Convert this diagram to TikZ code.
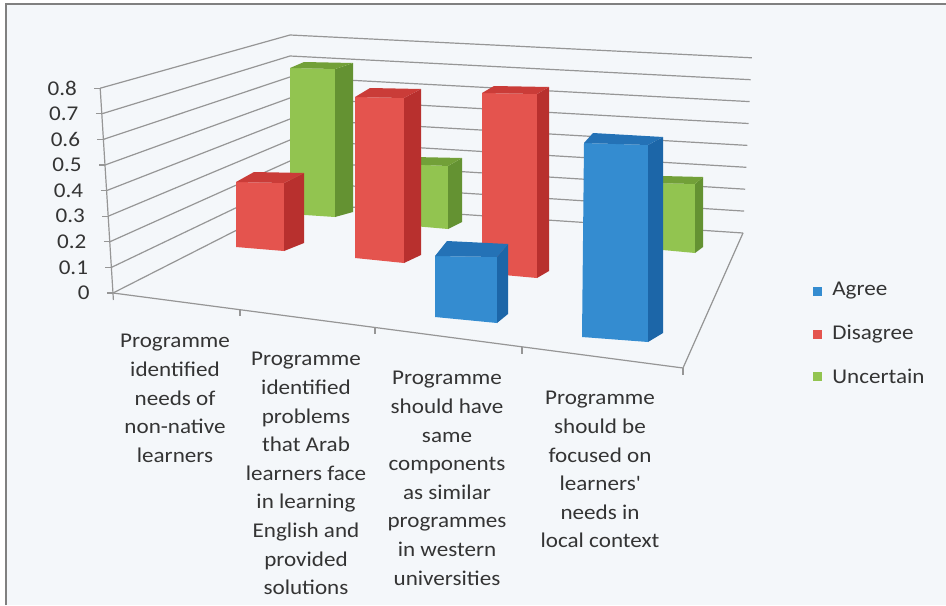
\documentclass[tikz,border=0pt]{standalone}
\usepackage{fontspec}
\setmainfont{Carlito}[FakeStretch=1.1]
\definecolor{agreefront}{RGB}{52,140,208}
\definecolor{agreeside}{RGB}{28,102,168}
\definecolor{agreetop}{RGB}{36,114,182}
\definecolor{disfront}{RGB}{228,84,78}
\definecolor{disside}{RGB}{184,48,46}
\definecolor{distop}{RGB}{202,60,56}
\definecolor{uncfront}{RGB}{146,196,80}
\definecolor{uncside}{RGB}{100,146,50}
\definecolor{unctop}{RGB}{114,160,56}
\definecolor{chartback}{RGB}{244,247,250}
\definecolor{chartgrid}{RGB}{150,150,150}
\definecolor{charttext}{RGB}{52,52,52}
\usetikzlibrary{positioning}

\begin{document}
\begin{tikzpicture}[x=0.5pt,y=-0.5pt]

	 \tikzstyle{grid}=[draw,line width=0.6pt,chartgrid]
	 \tikzstyle{frame}=[draw,line width=1pt,black!50]
	 \tikzstyle{label}=[font=\fontsize{10.5}{14.3}\selectfont,text=charttext,inner sep=0pt]
	 \tikzstyle{axislabel}=[label,anchor=east]
	 \tikzstyle{catlabel}=[label,anchor=north,align=center]
	 \tikzstyle{legendbox}=[minimum size=4.5pt,inner sep=0pt]
	 \useasboundingbox (0,0) rectangle (946,605);
	 \fill[white] (0,0) rectangle (946,605);
	 \fill[chartback] (6,4) rectangle (946,605);
	 \draw[frame] (6,605) -- (6,4) -- (946,4);

	 % walls and floor
	 \draw[grid] (113,293) -- (290,203) -- (743,233);
	 \draw[grid] (111.4,267.4) -- (290,182) -- (744.1,211.1);
	 \draw[grid] (109.8,241.8) -- (290,161) -- (745.2,189.2);
	 \draw[grid] (108.2,216.2) -- (290,140) -- (746.3,167.3);
	 \draw[grid] (106.6,190.6) -- (290,119) -- (747.4,145.4);
	 \draw[grid] (105,165) -- (290,98) -- (748.5,123.5);
	 \draw[grid] (103.4,139.4) -- (290,77) -- (749.6,101.6);
	 \draw[grid] (101.8,113.8) -- (290,56) -- (750.7,79.7);
	 \draw[grid] (100.2,88.2) -- (290,35) -- (751.8,57.8);
	 \draw[grid] (100.2,88.2) -- (113.4,300);
	 \draw[grid] (113,293) -- (683,368) -- (743,233);
	 \draw[grid] (240,310) -- (240,316);
	 \draw[grid] (375,328) -- (375,334);
	 \draw[grid] (522,347) -- (522,354);
	 \draw[grid] (683,368) -- (683,375);
	 \draw[grid] (107,293) -- (113,293);
	 \draw[grid] (105.4,267.4) -- (111.4,267.4);
	 \draw[grid] (103.8,241.8) -- (109.8,241.8);
	 \draw[grid] (102.2,216.2) -- (108.2,216.2);
	 \draw[grid] (100.6,190.6) -- (106.6,190.6);
	 \draw[grid] (99,165) -- (105,165);
	 \draw[grid] (97.4,139.4) -- (103.4,139.4);
	 \draw[grid] (95.8,113.8) -- (101.8,113.8);
	 \draw[grid] (94.2,88.2) -- (100.2,88.2);

	 \node[axislabel] (y0) at (90,293) {0};
	 \node[axislabel] (y1) at (88.4,267.4) {0.1};
	 \node[axislabel] (y2) at (86.8,241.8) {0.2};
	 \node[axislabel] (y3) at (85.2,216.2) {0.3};
	 \node[axislabel] (y4) at (83.6,190.6) {0.4};
	 \node[axislabel] (y5) at (82,165) {0.5};
	 \node[axislabel] (y6) at (80.4,139.4) {0.6};
	 \node[axislabel] (y7) at (78.8,113.8) {0.7};
	 \node[axislabel] (y8) at (77.2,88.2) {0.8};

	 % Uncertain
	 \fill[uncfront] (290,68) -- (335,69) -- (335,217) -- (290,214) -- cycle;
	 \fill[uncside] (335,69) -- (353,63) -- (353,212) -- (335,217) -- cycle;
	 \fill[unctop] (290,68) -- (335,69) -- (353,63) -- (304,62) -- cycle;
	 \fill[uncfront] (402,164) -- (448,166) -- (448,229) -- (402,225) -- cycle;
	 \fill[uncside] (448,166) -- (462,158) -- (462,222) -- (448,229) -- cycle;
	 \fill[unctop] (402,164) -- (448,166) -- (462,158) -- (414,157) -- cycle;
	 \fill[uncfront] (652,183) -- (695,184) -- (695,253) -- (652,249) -- cycle;
	 \fill[uncside] (695,184) -- (703,177) -- (703,247) -- (695,253) -- cycle;
	 \fill[unctop] (652,183) -- (695,184) -- (703,177) -- (662,176) -- cycle;

	 % Disagree
	 \fill[disfront] (236,182) -- (284,183) -- (284,251) -- (236,247) -- cycle;
	 \fill[disside] (284,183) -- (304,173) -- (304,243) -- (284,251) -- cycle;
	 \fill[distop] (236,182) -- (284,183) -- (304,173) -- (254,172) -- cycle;
	 \fill[disfront] (355,97) -- (404,98) -- (404,263) -- (355,258) -- cycle;
	 \fill[disside] (404,98) -- (421,89) -- (421,255) -- (404,263) -- cycle;
	 \fill[distop] (355,97) -- (404,98) -- (421,89) -- (370,88) -- cycle;
	 \fill[disfront] (482,93) -- (537,94) -- (537,278) -- (482,273) -- cycle;
	 \fill[disside] (537,94) -- (549,87) -- (549,271) -- (537,278) -- cycle;
	 \fill[distop] (482,93) -- (537,94) -- (549,87) -- (494,86) -- cycle;

	 % Agree
	 \fill[agreefront] (435,256) -- (497,257) -- (497,323) -- (435,317) -- cycle;
	 \fill[agreeside] (497,257) -- (508,244) -- (508,314) -- (497,323) -- cycle;
	 \fill[agreetop] (435,256) -- (497,257) -- (508,244) -- (447,241) -- cycle;
	 \fill[agreefront] (584,143) -- (648,145) -- (648,342) -- (582,337) -- cycle;
	 \fill[agreeside] (648,145) -- (663,137) -- (663,333) -- (648,342) -- cycle;
	 \fill[agreetop] (584,143) -- (648,145) -- (663,137) -- (593,133) -- cycle;

	 \node[catlabel] (c1) at (175,334) {Programme\\identified\\needs of\\non-native\\learners};
	 \node[catlabel] (c2) at (306,352) {Programme\\identified\\problems\\that Arab\\learners face\\in learning\\English and\\provided\\solutions};
	 \node[catlabel] (c3) at (447,371) {Programme\\should have\\same\\components\\as similar\\programmes\\in western\\universities};
	 \node[catlabel] (c4) at (600,391) {Programme\\should be\\focused on\\learners\textquotesingle\\needs in\\local context};

	 \node[legendbox,fill=agreefront] (agree) at (817,291) {};
	 \node[legendbox,fill=disfront] (disagree) at (817,334) {};
	 \node[legendbox,fill=uncfront] (uncertain) at (817,376) {};
	 \node[label,anchor=west,right=5pt of agree] (agreetext) {Agree};
	 \node[label,anchor=west,right=5pt of disagree] (disagreetext) {Disagree};
	 \node[label,anchor=west,right=5pt of uncertain] (uncertaintext) {Uncertain};

\end{tikzpicture}
\end{document}
